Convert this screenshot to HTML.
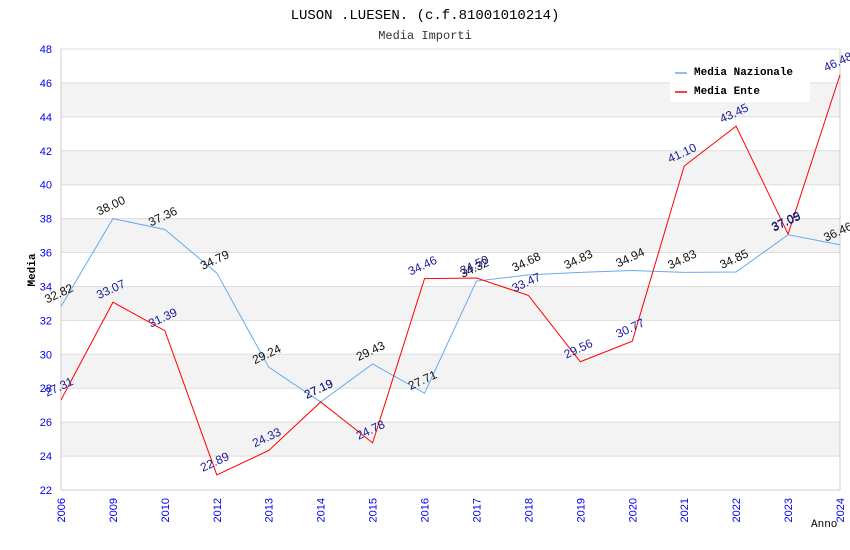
<!DOCTYPE html>
<html><head><meta charset="utf-8">
<style>
body{margin:0;background:#fff;width:850px;height:550px;overflow:hidden}
svg{display:block}
</style></head>
<body>
<svg id="chart" width="850" height="550">
<text x="425" y="19" text-anchor="middle" font-family="Liberation Mono, monospace" font-size="14" fill="#000">LUSON .LUESEN. (c.f.81001010214)</text>
<text x="425" y="39" text-anchor="middle" font-family="Liberation Mono, monospace" font-size="12" fill="#333">Media Importi</text>
<g id="bands"></g>
<g id="grid"></g>
<g id="axes"></g>
<g id="series"></g>
<g id="labels"></g>
<text x="35" y="270" transform="rotate(-90 35 270)" text-anchor="middle" font-family="Liberation Mono, monospace" font-size="11" font-weight="bold" fill="#000">Media</text>
<text x="811" y="527" font-family="Liberation Mono, monospace" font-size="11" fill="#000">Anno</text>
<g>
<rect x="670" y="60" width="140" height="42" fill="#fff"/>
<line x1="675" y1="73" x2="687" y2="73" stroke="#66aaee" stroke-width="1.5"/>
<text x="694" y="75" font-family="Liberation Mono, monospace" font-size="11" font-weight="bold" fill="#000">Media Nazionale</text>
<line x1="675" y1="92" x2="687" y2="92" stroke="#ff0000" stroke-width="1.5"/>
<text x="694" y="94" font-family="Liberation Mono, monospace" font-size="11" font-weight="bold" fill="#000">Media Ente</text>
</g>
</svg>
<script>
const categories=["2006","2009","2010","2012","2013","2014","2015","2016","2017","2018","2019","2020","2021","2022","2023","2024"];
const nazionale=[32.82,38.00,37.36,34.79,29.24,27.19,29.43,27.71,34.32,34.68,34.83,34.94,34.83,34.85,37.05,36.46];
const ente=[27.31,33.07,31.39,22.89,24.33,27.19,24.78,34.46,34.50,33.47,29.56,30.77,41.10,43.45,37.09,46.48];
const yTicks=[22,24,26,28,30,32,34,36,38,40,42,44,46,48];
const X0=61,X1=840,YT=49,YB=490,YMIN=22,YMAX=48;
const NS="http://www.w3.org/2000/svg";
function xs(i){return X0+(X1-X0)*i/(categories.length-1);}
function ys(v){return YB-(v-YMIN)/(YMAX-YMIN)*(YB-YT);}
function mk(tag,attrs,parent,txt){const e=document.createElementNS(NS,tag);for(const k in attrs)e.setAttribute(k,attrs[k]);if(txt!==undefined)e.textContent=txt;document.getElementById(parent).appendChild(e);return e;}
for(let i=0;i<yTicks.length-1;i++){
 if(i%2===1){
  const r=mk('rect',{x:X0,y:ys(yTicks[i+1]),width:X1-X0,height:ys(yTicks[i])-ys(yTicks[i+1]),fill:'#f3f3f3'},'bands');
  
  
 }
}
yTicks.forEach(t=>{
 const l=mk('line',{x1:X0,x2:X1,y1:ys(t),y2:ys(t),stroke:'#dddddd','stroke-width':1},'grid');
 
 
 const tx=mk('text',{x:X0-9,y:ys(t)+4,'text-anchor':'end','font-family':'Liberation Sans, sans-serif','font-size':11,fill:'#0000ee'},'axes',String(t));
 
 
});
const ax=mk('line',{x1:X0,x2:X0,y1:YT,y2:YB,stroke:'#cccccc'},'axes');


const ax2=mk('line',{x1:X1,x2:X1,y1:YT,y2:YB,stroke:'#cccccc'},'axes');


const xa=mk('line',{x1:X0,x2:X1,y1:YB,y2:YB,stroke:'#cccccc'},'axes');


categories.forEach((c,i)=>{
 const x=xs(i);
 const t=mk('text',{x:x+4,y:YB+8,'text-anchor':'end',transform:`rotate(-90 ${x+4} ${YB+8})`,'font-family':'Liberation Sans, sans-serif','font-size':11,fill:'#0000ee'},'axes',c);
 
 
});
function series(vals,color,name,lblColor){
 const p=mk('polyline',{points:vals.map((v,i)=>xs(i)+','+ys(v)).join(' '),fill:'none',stroke:color,'stroke-width':1},'series');
 
 
 vals.forEach((v,i)=>{
  const x=xs(i)-14,y=ys(v)-3;
  const t=mk('text',{x:x,y:y,transform:`rotate(-25 ${x} ${y})`,'font-family':'Liberation Sans, sans-serif','font-size':12,fill:lblColor},'labels',v.toFixed(2));
  
  
 });
}
series(nazionale,'#66aaee','series-media-nazionale','#111111');
series(ente,'#ff0000','series-media-ente','#1a1a99');
</script>
</body></html>
